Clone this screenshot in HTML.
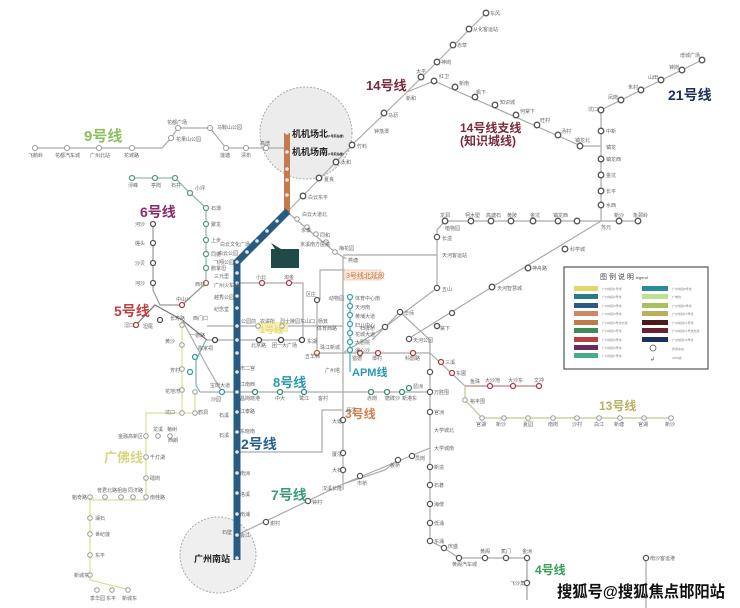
<!DOCTYPE html>
<html><head><meta charset="utf-8"><style>
html,body{margin:0;padding:0;background:#fff;}
svg{display:block;font-family:"Liberation Sans","Noto Sans CJK SC",sans-serif;}
.s{fill:#fff;stroke:#555;stroke-width:1.3}
.g{fill:#fff;stroke:#999;stroke-width:1}
.t{font-size:5px;fill:#666}
.L{font-weight:bold}
</style></head><body>
<svg width="740" height="608" viewBox="0 0 740 608" xmlns="http://www.w3.org/2000/svg">
<rect width="740" height="608" fill="#fff"/>
<!-- airport circles -->
<circle cx="306" cy="133" r="46" fill="#ececec" stroke="#aaa" stroke-dasharray="2,1.5"/>
<circle cx="218" cy="555" r="38" fill="#efefef" stroke="#aaa" stroke-dasharray="2,1.5"/>

<!-- gray lines -->
<g fill="none" stroke="#aaa" stroke-width="1.2">
<polyline points="35,148 162,148 171,138 178,128 210,128 226,148 287,148"/>
<polyline points="287,212 336,162 352,145 407,92 486,13"/>
<polyline points="407,92 434,81 581,146 601,146"/>
<polyline points="601,221 601,110 702,60"/>
<polyline points="437,255 437,230 445,221 638,221"/>
<polyline points="601,221 492,287 445,316 408,339"/>
<polyline points="287,212 335,252 345,258 343,258 343,490"/>
<polyline points="343,255 437,255 437,288 385,327"/>
<polyline points="237,283 303,283 303,340"/>
<polyline points="207,340 303,340"/>
<polyline points="207,326 343,326"/>
<polyline points="320,300 320,270 345,270"/>
<polyline points="317,300 317,353 430,353"/>
<polyline points="200,392 430,392"/>
<polyline points="430,353 430,541 444,548 459,558 527,558 527,600"/>
<polyline points="430,353 465,386"/>
<polyline points="237,535 343,484 430,448"/>
<polyline points="343,484 385,470 398,460"/>
<polyline points="372,340 400,312 430,340 430,353"/>
<polyline points="385,327 343,353"/>
<polyline points="343,410 322,410 322,452 240,452"/>
<polyline points="527,558 527,600"/>
<polyline points="646,558 646,608"/>
<polyline points="182,320 208,368 222,392"/>
</g>
<!-- colored lines -->
<polyline points="132,178 175,178 190,193 206,208 206,283" fill="none" stroke="#8cc0a8" stroke-width="1.3"/>
<polyline points="153,224 153,290 160,305 182,305 206,283" fill="none" stroke="#999" stroke-width="1.2"/>
<polyline points="136,325 155,305 182,320 207,340" fill="none" stroke="#777" stroke-width="1.2"/>
<polyline points="206,340 196,360 196,385 200,392" fill="none" stroke="#6ab4b4" stroke-width="1.2"/>
<polyline points="182,320 182,413 146,413 146,500 90,500 90,580 130,590" fill="none" stroke="#dede9a" stroke-width="1.3"/>
<polyline points="195,392 195,413 182,413" fill="none" stroke="#dede9a" stroke-width="1.2"/>
<polyline points="465,386 540,386" fill="none" stroke="#c08080" stroke-width="1.3"/>
<polyline points="465,386 465,400 482,418 672,418" fill="none" stroke="#c8c890" stroke-width="1.3"/>
<polyline points="350,297 350,372" fill="none" stroke="#6ab8c8" stroke-width="1.5"/>
<rect x="258" y="322" width="30" height="10" fill="#f5f0b0"/>
<!-- brown line 3 north -->
<line x1="287" y1="133" x2="287" y2="212" stroke="#c37b4e" stroke-width="6"/>
<!-- blue line 2 -->
<polyline points="288,211 237,262 237,560" fill="none" stroke="#285b82" stroke-width="7"/>
<g fill="#dfe9f3">
<circle cx="287" cy="133" r="1.8"/><circle cx="287" cy="152" r="1.8"/><circle cx="287" cy="169" r="1.8"/><circle cx="287" cy="180" r="1.8"/><circle cx="287" cy="195" r="1.8"/>
<circle cx="277" cy="221" r="1.8"/><circle cx="267" cy="231" r="1.8"/><circle cx="257" cy="241" r="1.8"/><circle cx="247" cy="252" r="1.8"/>
<circle cx="237" cy="262" r="1.8"/><circle cx="237" cy="273" r="1.8"/><circle cx="237" cy="283" r="1.8"/><circle cx="237" cy="296" r="1.8"/><circle cx="237" cy="308" r="1.8"/><circle cx="237" cy="326" r="1.8"/><circle cx="237" cy="340" r="1.8"/><circle cx="237" cy="353" r="1.8"/><circle cx="237" cy="372" r="1.8"/><circle cx="237" cy="392" r="1.8"/><circle cx="237" cy="412" r="1.8"/><circle cx="237" cy="432" r="1.8"/><circle cx="237" cy="452" r="1.8"/><circle cx="237" cy="473" r="1.8"/><circle cx="237" cy="493" r="1.8"/><circle cx="237" cy="514" r="1.8"/><circle cx="237" cy="535" r="1.8"/><circle cx="237" cy="558" r="1.8"/>
</g>
<!-- stations -->
<g class="g">
<circle cx="35" cy="148" r="2.5"/><circle cx="67" cy="148" r="2.5"/><circle cx="99" cy="148" r="2.5"/><circle cx="132" cy="148" r="2.5"/><circle cx="171" cy="138" r="2.5"/><circle cx="178" cy="128" r="2.5"/><circle cx="210" cy="128" r="2.5"/><circle cx="226" cy="148" r="2.5"/><circle cx="246" cy="148" r="2.5"/><circle cx="266" cy="148" r="2.5"/>
<circle cx="297" cy="219" r="2.3"/><circle cx="307" cy="227" r="2.3"/><circle cx="316" cy="234" r="2.3"/><circle cx="326" cy="242" r="2.3"/><circle cx="335" cy="252" r="2.3"/>
<circle cx="182" cy="325" r="2.3"/><circle cx="182" cy="345" r="2.3"/><circle cx="182" cy="369" r="2.3"/><circle cx="182" cy="390" r="2.3"/><circle cx="182" cy="413" r="2.3"/><circle cx="195" cy="392" r="2.3"/><circle cx="195" cy="413" r="2.3"/>
<circle cx="146" cy="436" r="2.3"/><circle cx="158" cy="436" r="2.3"/><circle cx="170" cy="436" r="2.3"/><circle cx="146" cy="457" r="2.3"/><circle cx="146" cy="478" r="2.3"/><circle cx="146" cy="497" r="2.3"/><circle cx="133" cy="497" r="2.3"/><circle cx="121" cy="497" r="2.3"/><circle cx="105" cy="497" r="2.3"/><circle cx="90" cy="497" r="2.3"/><circle cx="90" cy="518" r="2.3"/><circle cx="90" cy="534" r="2.3"/><circle cx="90" cy="555" r="2.3"/><circle cx="90" cy="575" r="2.3"/><circle cx="97" cy="590" r="2.3"/><circle cx="112" cy="590" r="2.3"/><circle cx="128" cy="590" r="2.3"/>
<circle cx="482" cy="418" r="2.3"/><circle cx="504" cy="418" r="2.3"/><circle cx="528" cy="418" r="2.3"/><circle cx="553" cy="418" r="2.3"/><circle cx="577" cy="418" r="2.3"/><circle cx="599" cy="418" r="2.3"/><circle cx="620" cy="418" r="2.3"/><circle cx="644" cy="418" r="2.3"/><circle cx="671" cy="418" r="2.3"/><circle cx="465" cy="400" r="2.3"/>
<circle cx="258" cy="326" r="2.3"/><circle cx="282" cy="326" r="2.3"/>
</g>
<g class="s">
<circle cx="352" cy="145" r="2.8"/><circle cx="336" cy="162" r="2.8"/><circle cx="319" cy="178" r="2.8"/><circle cx="303" cy="196" r="2.8"/><circle cx="384" cy="113" r="2.8"/><circle cx="421" cy="77" r="2.8"/><circle cx="437" cy="62" r="2.8"/><circle cx="453" cy="45" r="2.8"/><circle cx="469" cy="29" r="2.8"/><circle cx="486" cy="13" r="2.8"/>
<circle cx="434" cy="81" r="2.8"/><circle cx="455" cy="87" r="2.8"/><circle cx="475" cy="97" r="2.8"/><circle cx="495" cy="105" r="2.8"/><circle cx="516" cy="115" r="2.8"/><circle cx="537" cy="125" r="2.8"/><circle cx="558" cy="135" r="2.8"/><circle cx="580" cy="146" r="2.8"/>
<circle cx="601" cy="110" r="2.8"/><circle cx="621" cy="100" r="2.8"/><circle cx="641" cy="90" r="2.8"/><circle cx="661" cy="80" r="2.8"/><circle cx="682" cy="70" r="2.8"/><circle cx="702" cy="60" r="2.8"/>
<circle cx="601" cy="131" r="2.8"/><circle cx="601" cy="159" r="2.8"/><circle cx="601" cy="175" r="2.8"/><circle cx="601" cy="191" r="2.8"/><circle cx="601" cy="205" r="2.8"/>
<circle cx="445" cy="221" r="2.8"/><circle cx="471" cy="221" r="2.8"/><circle cx="491" cy="221" r="2.8"/><circle cx="511" cy="221" r="2.8"/><circle cx="533" cy="221" r="2.8"/><circle cx="558" cy="221" r="2.8"/><circle cx="577" cy="221" r="2.8"/><circle cx="619" cy="221" r="2.8"/><circle cx="638" cy="221" r="2.8"/>
<circle cx="565" cy="249" r="2.8"/><circle cx="528" cy="268" r="2.8"/><circle cx="492" cy="287" r="2.8"/>
<circle cx="437" cy="237" r="2.6"/><circle cx="437" cy="288" r="2.6"/><circle cx="400" cy="312" r="2.6"/><circle cx="385" cy="327" r="2.6"/>
<circle cx="430" cy="372" r="2.6"/><circle cx="430" cy="392" r="2.6"/><circle cx="430" cy="412" r="2.6"/><circle cx="430" cy="467" r="2.6"/><circle cx="430" cy="485" r="2.6"/><circle cx="430" cy="504" r="2.6"/><circle cx="430" cy="523" r="2.6"/><circle cx="430" cy="541" r="2.6"/><circle cx="444" cy="548" r="2.6"/><circle cx="459" cy="558" r="2.6"/><circle cx="485" cy="558" r="2.6"/><circle cx="506" cy="558" r="2.6"/><circle cx="527" cy="558" r="2.6"/><circle cx="527" cy="583" r="2.6"/><circle cx="646" cy="558" r="2.6"/>
<circle cx="343" cy="420" r="2.6"/><circle cx="343" cy="453" r="2.6"/><circle cx="343" cy="470" r="2.6"/><circle cx="266" cy="522" r="2.6"/><circle cx="308" cy="501" r="2.6"/><circle cx="398" cy="460" r="2.6"/><circle cx="412" cy="456" r="2.6"/><circle cx="360" cy="476" r="2.6"/>
<circle cx="409" cy="339" r="2.6"/><circle cx="437" cy="326" r="2.6"/>
</g>
<g stroke-width="1.3" fill="#fff">
<circle cx="206" cy="208" r="2.5" stroke="#5a9a80"/><circle cx="206" cy="224" r="2.5" stroke="#5a9a80"/><circle cx="206" cy="240" r="2.5" stroke="#5a9a80"/><circle cx="206" cy="254" r="2.5" stroke="#5a9a80"/><circle cx="206" cy="268" r="2.5" stroke="#5a9a80"/><circle cx="190" cy="193" r="2.5" stroke="#5a9a80"/><circle cx="132" cy="178" r="2.5" stroke="#5a9a80"/><circle cx="155" cy="178" r="2.5" stroke="#5a9a80"/><circle cx="175" cy="178" r="2.5" stroke="#5a9a80"/>
<circle cx="153" cy="224" r="2.5" stroke="#555"/><circle cx="153" cy="243" r="2.5" stroke="#555"/><circle cx="153" cy="263" r="2.5" stroke="#555"/><circle cx="153" cy="283" r="2.5" stroke="#555"/>
<circle cx="136" cy="325" r="2.5" stroke="#a04040"/><circle cx="160" cy="320" r="2.5" stroke="#555"/><circle cx="182" cy="305" r="2.5" stroke="#a04040"/><circle cx="206" cy="283" r="2.5" stroke="#a06050"/>
<circle cx="262" cy="283" r="2.5" stroke="#a04050"/><circle cx="289" cy="283" r="2.5" stroke="#a04050"/>
<circle cx="215" cy="340" r="2.5" stroke="#444"/><circle cx="259" cy="340" r="2.5" stroke="#444"/><circle cx="281" cy="340" r="2.5" stroke="#444"/><circle cx="302" cy="340" r="2.5" stroke="#444"/>
<circle cx="317" cy="300" r="2.5" stroke="#555"/><circle cx="317" cy="353" r="2.5" stroke="#b06040"/>
<circle cx="195" cy="357" r="2.5" stroke="#3a9a9a"/><circle cx="190" cy="372" r="2.5" stroke="#3a9a9a"/><circle cx="222" cy="392" r="2.5" stroke="#3a9a9a"/>
<circle cx="255" cy="392" r="2.5" stroke="#3a8a7a"/><circle cx="280" cy="392" r="2.5" stroke="#3a8a7a"/><circle cx="304" cy="392" r="2.5" stroke="#3a8a7a"/><circle cx="371" cy="392" r="2.5" stroke="#3a8a7a"/><circle cx="387" cy="392" r="2.5" stroke="#3a8a7a"/><circle cx="402" cy="392" r="2.5" stroke="#3a8a7a"/><circle cx="409" cy="388" r="2.5" stroke="#3a8a7a"/>
<circle cx="350" cy="297" r="2.5" stroke="#3aa0b0"/><circle cx="350" cy="306" r="2.5" stroke="#3aa0b0"/><circle cx="350" cy="315" r="2.5" stroke="#3aa0b0"/><circle cx="350" cy="324" r="2.5" stroke="#3aa0b0"/><circle cx="350" cy="333" r="2.5" stroke="#3aa0b0"/><circle cx="350" cy="342" r="2.5" stroke="#3aa0b0"/><circle cx="350" cy="350" r="2.5" stroke="#3aa0b0"/>
<circle cx="360" cy="353" r="2.5" stroke="#a04040"/><circle cx="378" cy="353" r="2.5" stroke="#a04040"/><circle cx="413" cy="353" r="2.5" stroke="#a04040"/><circle cx="441" cy="362" r="2.5" stroke="#a04040"/><circle cx="452" cy="373" r="2.5" stroke="#a04040"/>
<circle cx="490" cy="386" r="2.5" stroke="#a04050"/><circle cx="513" cy="386" r="2.5" stroke="#a04050"/><circle cx="539" cy="386" r="2.5" stroke="#a04050"/>
<circle cx="452" cy="313" r="2.5" stroke="#555"/><circle cx="437" cy="326" r="2.5" stroke="#555"/>
</g>
<!-- dark teal marker -->
<rect x="271" y="249" width="28" height="19" fill="#1f4a48"/>
<polygon points="275,249 271,243 281,249" fill="#1f4a48"/>
<rect x="344" y="270" width="37" height="10" fill="#fbe8d8" stroke="#e0b090" stroke-width="0.5"/>
<text x="346" y="278" font-size="7" fill="#c07040">3号线北延段</text>

<!-- legend -->
<rect x="564" y="267" width="144" height="102" fill="#fff" stroke="#555" stroke-width="1.2"/>
<text x="600" y="279" font-size="7" fill="#444">图 例 说 明 <tspan font-size="4">legend</tspan></text>
<g>
<rect x="574" y="286" width="24" height="5" fill="#e2d56a"/><rect x="574" y="294" width="24" height="5" fill="#2a7a8a"/><rect x="574" y="303" width="24" height="5" fill="#2a5a85"/><rect x="574" y="311" width="24" height="5" fill="#cc8a60"/><rect x="574" y="320" width="24" height="5" fill="#c07a4a"/><rect x="574" y="328" width="24" height="5" fill="#3a8a5a"/><rect x="574" y="337" width="24" height="5" fill="#b84040"/><rect x="574" y="345" width="24" height="5" fill="#6a2a5a"/><rect x="574" y="353" width="24" height="5" fill="#4aaa8a"/>
<rect x="642" y="286" width="26" height="5" fill="#2a8aa0"/><rect x="642" y="294" width="26" height="5" fill="#c0e090"/><rect x="642" y="303" width="26" height="5" fill="#a8c060"/><rect x="642" y="311" width="26" height="5" fill="#b8b060"/><rect x="642" y="320" width="26" height="5" fill="#4a1a1a"/><rect x="642" y="328" width="26" height="5" fill="#6a2030"/><rect x="642" y="337" width="26" height="5" fill="#1a3060"/>
<circle cx="653" cy="348" r="3" fill="#fff" stroke="#555" stroke-width="0.8"/>
<text x="650" y="361" font-size="6" fill="#2a6a70">↲</text>
</g>
<g font-size="3" fill="#888">
<text x="602" y="290">广州地铁1号线</text><text x="602" y="298">广州地铁2号线</text><text x="602" y="307">广州地铁3号线</text><text x="602" y="315">广州地铁3号线</text><text x="602" y="324">广州地铁3号线北延</text><text x="602" y="332">广州地铁4号线</text><text x="602" y="341">广州地铁5号线</text><text x="602" y="349">广州地铁6号线</text><text x="602" y="357">广州地铁7号线</text>
<text x="672" y="290">广州地铁8号线</text><text x="672" y="298">广佛线</text><text x="672" y="307">广州地铁9号线</text><text x="672" y="315">广州地铁13号线</text><text x="672" y="324">广州地铁14号线</text><text x="672" y="332">广州地铁14号线支线</text><text x="672" y="341">广州地铁21号线</text><text x="672" y="350">换乘车站</text><text x="672" y="359">APM线</text>
</g>

<!-- big labels -->
<g class="L">
<text x="84" y="141" font-size="15" fill="#8cc060">9号线</text>
<text x="366" y="90" font-size="13" fill="#7a2a3a">14号线</text>
<text x="460" y="132" font-size="12" fill="#7a2a3a">14号线支线</text>
<text x="460" y="145" font-size="12" fill="#7a2a3a">(知识城线)</text>
<text x="668" y="100" font-size="14" fill="#1a3060">21号线</text>
<text x="140" y="217" font-size="14" fill="#8a2a6a">6号线</text>
<text x="114" y="316" font-size="14" fill="#c04040">5号线</text>
<text x="273" y="387" font-size="13" fill="#2a9ab0">8号线</text>
<text x="241" y="449" font-size="14" fill="#2a6090">2号线</text>
<text x="345" y="418" font-size="12" fill="#d08050">3号线</text>
<text x="352" y="376" font-size="11" fill="#2a9ab0">APM线</text>
<text x="599" y="410" font-size="12" fill="#b8b060">13号线</text>
<text x="104" y="462" font-size="13" fill="#d6d680">广佛线</text>
<text x="271" y="500" font-size="14" fill="#3a9a7a">7号线</text>
<text x="535" y="574" font-size="12" fill="#3a9a5a">4号线</text>
<text x="260" y="333" font-size="9" fill="#e8d880">1号线</text>
<text x="292" y="137" font-size="9" fill="#222">机机场北<tspan font-size="3">(1号航站楼)</tspan></text>
<text x="292" y="155" font-size="9" fill="#222">机机场南<tspan font-size="3">(1号航站楼)</tspan></text>
<text x="194" y="562" font-size="9" fill="#222">广州南站</text>
</g>
<text x="557" y="597" font-size="16" font-weight="bold" fill="#111" textLength="168" lengthAdjust="spacingAndGlyphs">搜狐号@搜狐焦点邯阳站</text>

<!-- station labels -->
<g class="t">
<text x="28" y="157">飞鹅岭</text><text x="55" y="157">花都汽车城</text><text x="90" y="157">广州北站</text><text x="124" y="157">花城路</text><text x="167" y="124">花都广场</text><text x="176" y="141">花果山公园</text><text x="217" y="129">马鞍山公园</text><text x="220" y="157">莲塘</text><text x="241" y="157">清布</text><text x="260" y="145">高增</text>
<text x="357" y="148">竹料</text><text x="341" y="164">太和</text><text x="324" y="181">夏良</text><text x="308" y="199">白云东平</text><text x="374" y="133">钟落潭</text><text x="388" y="117">马沥</text><text x="406" y="100">新和</text><text x="416" y="73">太平</text><text x="441" y="64">神岗</text><text x="457" y="47">赤草</text><text x="473" y="31">从化客运站</text><text x="490" y="15">东风</text>
<text x="439" y="78">红卫</text><text x="459" y="85">新南</text><text x="476" y="94">枫下</text><text x="500" y="104">知识城</text><text x="520" y="113">何棠下</text><text x="540" y="122">旺村</text><text x="561" y="133">汤村</text><text x="575" y="142">镇龙北</text><text x="606" y="149">镇龙</text>
<text x="588" y="111">坑口</text><text x="608" y="99">凤岗</text><text x="628" y="89">朱村</text><text x="648" y="79">山田</text><text x="669" y="69">钟岗</text><text x="680" y="57">增城广场</text>
<text x="606" y="133">中新</text><text x="606" y="161">镇龙西</text><text x="606" y="177">金坑</text><text x="606" y="193">长平</text><text x="606" y="207">水西</text><text x="601" y="229">苏元</text>
<text x="440" y="217">龙洞</text><text x="465" y="217">柯木塱</text><text x="486" y="217">高塘石</text><text x="507" y="217">黄陂</text><text x="530" y="217">金坑</text><text x="553" y="217">镇龙西</text><text x="614" y="217">新沙</text><text x="633" y="217">象颈岭</text><text x="445" y="230">植物园</text>
<text x="570" y="251">科学城</text><text x="532" y="270">神舟路</text><text x="497" y="290">天河智慧城</text>
<text x="442" y="257">天河客运站</text><text x="442" y="240">长湴</text><text x="442" y="291">五山</text><text x="404" y="315">华师</text><text x="360" y="330">石牌桥</text>
<text x="302" y="216">白云大道北</text><text x="301" y="232">永泰</text><text x="320" y="237">同和</text><text x="300" y="246">京溪南方医院</text><text x="339" y="250">梅花园</text><text x="348" y="262">燕塘</text>
<text x="256" y="279">小北</text><text x="284" y="279">淘金</text><text x="306" y="296">区庄</text><text x="329" y="300">动物园</text><text x="355" y="300">体育中心南</text><text x="355" y="309">天河南</text><text x="355" y="318">黄埔大道</text><text x="355" y="327">妇儿中心</text><text x="355" y="336">花城大道</text><text x="355" y="344">大剧院</text><text x="355" y="352">海心沙</text>
<text x="241" y="323">公园前</text><text x="260" y="323">农讲所</text><text x="280" y="323">烈士陵园</text><text x="300" y="323">东山口</text><text x="318" y="323">杨箕</text><text x="317" y="330">体育西路</text>
<text x="251" y="347">北京路</text><text x="272" y="347">团一大广场</text><text x="307" y="343">东湖</text><text x="320" y="349">珠江新城</text><text x="305" y="358">五羊邨</text><text x="325" y="372">广州塔</text>
<text x="240" y="370">市二宫</text><text x="240" y="386">江南西</text><text x="240" y="400">昌岗</text><text x="240" y="413">江泰路</text><text x="240" y="433">东晓南</text><text x="240" y="475">南洲</text><text x="240" y="496">洛溪</text><text x="240" y="516">南浦</text><text x="240" y="537">会江</text><text x="222" y="534">石壁</text>
<text x="250" y="400">晓港</text><text x="275" y="400">中大</text><text x="299" y="400">鹭江</text><text x="318" y="400">客村</text><text x="367" y="400">赤岗</text><text x="385" y="400">磨碟沙</text><text x="402" y="400">新港东</text><text x="413" y="388">琶洲</text><text x="434" y="394">万胜围</text><text x="210" y="387">宝岗大道</text><text x="211" y="401">沙园</text>
<text x="434" y="414">官洲</text><text x="434" y="432">大学城北</text><text x="434" y="450">大学城南</text><text x="434" y="469">新造</text><text x="434" y="487">石碁</text><text x="434" y="506">海傍</text><text x="434" y="525">低涌</text><text x="434" y="543">东涌</text><text x="448" y="548">庆盛</text><text x="452" y="566">黄阁汽车城</text><text x="480" y="553">黄阁</text><text x="501" y="553">蕉门</text><text x="522" y="553">金洲</text><text x="510" y="585">飞沙角</text><text x="650" y="560">南沙客运港</text>
<text x="332" y="423">大塘</text><text x="346" y="412">沥滘</text><text x="332" y="456">厦滘</text><text x="332" y="472">大石</text><text x="322" y="490">汉溪长隆</text><text x="270" y="525">谢村</text><text x="312" y="504">钟村</text><text x="357" y="485">市桥</text><text x="390" y="467">板桥</text><text x="415" y="460">员岗</text>
<text x="470" y="383">鱼珠</text><text x="485" y="382">大沙地</text><text x="508" y="382">大沙东</text><text x="534" y="382">文冲</text><text x="470" y="403">裕丰围</text>
<text x="476" y="426">官湖</text><text x="496" y="426">新沙</text><text x="523" y="426">夏园</text><text x="548" y="426">南岗</text><text x="572" y="426">沙村</text><text x="594" y="426">白江</text><text x="614" y="426">新塘</text><text x="638" y="426">官湖</text><text x="665" y="426">新沙</text>
<text x="352" y="360">猎德</text><text x="372" y="360">潭村</text><text x="405" y="360">科韵路</text><text x="445" y="364">三溪</text><text x="456" y="375">东圃</text><text x="413" y="342">天河公园</text><text x="440" y="330">棠下</text>
<text x="211" y="210">石潭</text><text x="211" y="226">聚龙</text><text x="211" y="242">上步</text><text x="211" y="256">同德</text><text x="211" y="270">鹅掌坦</text><text x="195" y="190">小坪</text><text x="128" y="187">浔峰</text><text x="151" y="187">亭岗</text><text x="171" y="187">石井</text>
<text x="135" y="226">河沙</text><text x="135" y="245">槎头</text><text x="135" y="265">沙贝</text><text x="135" y="285">河沙</text><text x="124" y="327">滘口</text><text x="143" y="328">坦尾</text><text x="176" y="301">中山八</text><text x="195" y="286">西村</text>
<text x="220" y="246">白云文化广场</text><text x="218" y="255">白云公园</text><text x="214" y="264">飞翔公园</text><text x="214" y="278">三元里</text><text x="214" y="287">广州火车站</text><text x="214" y="299">越秀公园</text><text x="214" y="311">纪念堂</text>
<text x="170" y="320">长寿路</text><text x="193" y="320">西门口</text><text x="165" y="343">黄沙</text><text x="190" y="337">一德路</text><text x="198" y="350">陈家祠</text><text x="170" y="372">芳村</text><text x="165" y="393">花地湾</text><text x="165" y="414">坑口</text><text x="198" y="414">鹤洞</text>
<text x="118" y="438">金融高新区</text><text x="153" y="431">龙溪</text><text x="167" y="431">菊树</text><text x="150" y="459">千灯湖</text><text x="150" y="480">礌岗</text><text x="150" y="499">南桂路</text><text x="97" y="492">普君北路</text><text x="117" y="492">祖庙</text><text x="128" y="492">同济路</text><text x="72" y="499">魁奇路</text><text x="95" y="520">澜石</text><text x="95" y="536">世纪莲</text><text x="95" y="557">东平</text><text x="74" y="577">新城东</text><text x="90" y="600">季华园</text><text x="106" y="600">东平</text><text x="122" y="600">新城东</text>
<text x="168" y="442">西朗</text><text x="219" y="417">石溪</text><text x="219" y="437">石溪</text>
</g>
</svg>
</body></html>
